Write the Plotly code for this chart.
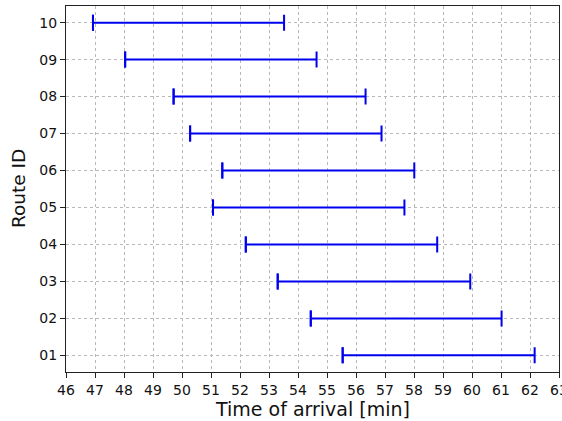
import plotly.graph_objects as go

routes = ["01", "02", "03", "04", "05", "06", "07", "08", "09", "10"]
start_min = [55.54, 54.44, 53.30, 52.20, 51.07, 51.39, 50.28, 49.71, 48.04, 46.93]
end_min = [62.16, 61.02, 59.94, 58.80, 57.67, 58.01, 56.88, 56.33, 54.64, 53.52]
x_ticks = list(range(46, 64))

ypos = list(range(1, len(routes) + 1))
widths = [e - s for s, e in zip(start_min, end_min)]
bar_color = "#0000f0"

fig = go.Figure()
fig.add_trace(go.Scatter(
    x=start_min, y=ypos, mode="markers",
    marker=dict(size=1, color="rgba(0,0,0,0)"),
    error_x=dict(type="data", symmetric=False, array=widths,
                 arrayminus=[0] * len(widths), color=bar_color,
                 thickness=2, width=8),
    showlegend=False, hoverinfo="skip",
))
# left caps: a zero-length error on the start point shows a cap
fig.add_trace(go.Scatter(
    x=start_min, y=ypos, mode="markers",
    marker=dict(size=1, color="rgba(0,0,0,0)"),
    error_x=dict(type="data", symmetric=True, array=[0] * len(widths),
                 color=bar_color, thickness=2, width=8),
    showlegend=False, hoverinfo="skip",
))

font = "DejaVu Sans, sans-serif"
grid = dict(showgrid=True, gridcolor="#b8b8b8", griddash="dot", gridwidth=1)
axis_common = dict(ticks="outside", ticklen=5, tickcolor="#222", tickwidth=1,
                   showline=True, linecolor="#222", linewidth=1.3, mirror=True,
                   zeroline=False, automargin=False, ticklabeloverflow="allow", **grid)
fig.update_layout(
    width=562, height=421,
    margin=dict(l=66, r=3, t=6, b=49),
    plot_bgcolor="white", paper_bgcolor="white",
    font=dict(family=font, size=14, color="#111"),
    xaxis=dict(range=[46, 63], tickvals=x_ticks, ticktext=[str(t) for t in x_ticks],
               **axis_common),
    yaxis=dict(range=[0.55, 10.45], tickvals=ypos, ticktext=routes,
               **axis_common),
    annotations=[
        dict(text="Time of arrival [min]", xref="paper", yref="paper", x=0.5, y=0,
             xanchor="center", yanchor="bottom", yshift=-50, showarrow=False,
             font=dict(family=font, size=19, color="#111")),
        dict(text="Route ID", xref="paper", yref="paper", x=0, y=0.5,
             xanchor="center", yanchor="middle", xshift=-48, textangle=-90,
             showarrow=False, font=dict(family=font, size=18.5, color="#111")),
    ],
)

fig.write_html("out.html", config={"displayModeBar": False},
               post_script="document.body.style.margin='0';document.body.style.overflow='hidden';")
